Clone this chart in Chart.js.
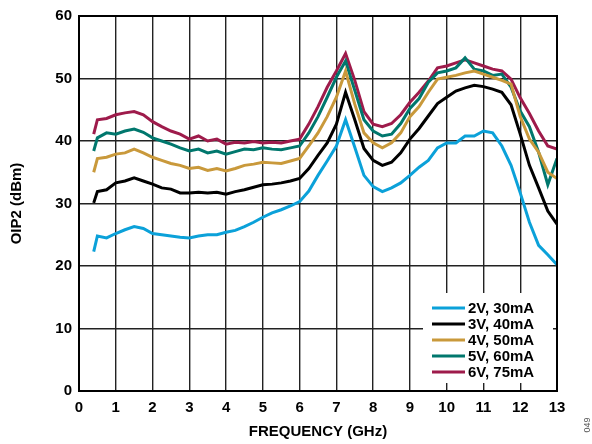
<!DOCTYPE html>
<html>
<head>
<meta charset="utf-8">
<script src="https://cdn.jsdelivr.net/npm/chart.js@4.4.0/dist/chart.umd.min.js"></script>
<style>
  html, body { margin: 0; padding: 0; background: #fff; }
  #wrap { position: relative; width: 592px; height: 444px; }
</style>
</head>
<body>
<div id="wrap"><canvas id="oip2" width="592" height="444"></canvas></div>
<script>
// frequency points (GHz) shared by all curves
const freqGHz = [0.4, 0.5, 0.75, 1, 1.25, 1.5, 1.75, 2, 2.25, 2.5, 2.75, 3, 3.25, 3.5, 3.75, 4,
  4.25, 4.5, 4.75, 5, 5.25, 5.5, 5.75, 6, 6.25, 6.5, 6.75, 7, 7.25, 7.5, 7.75, 8,
  8.25, 8.5, 8.75, 9, 9.25, 9.5, 9.75, 10, 10.25, 10.5, 10.75, 11, 11.25, 11.5, 11.75, 12,
  12.25, 12.5, 12.75, 13];

// OIP2 (dBm) per supply setting
const oip2_2V = [22.3, 24.8, 24.5, 25.2, 25.8, 26.3, 26.0, 25.2, 25.0, 24.8, 24.6, 24.5, 24.8, 25.0, 25.0, 25.4,
  25.7, 26.3, 27.0, 27.8, 28.5, 29.0, 29.6, 30.3, 32.0, 34.5, 36.8, 39.2, 43.4, 39.0, 34.5, 32.7,
  31.9, 32.5, 33.3, 34.5, 35.8, 36.9, 38.9, 39.7, 39.7, 40.8, 40.8, 41.6, 41.3, 39.2, 36.1, 31.7,
  27.0, 23.3, 21.8, 20.2];
const oip2_3V = [30.1, 31.9, 32.2, 33.3, 33.6, 34.1, 33.6, 33.1, 32.5, 32.3, 31.7, 31.7, 31.8, 31.7, 31.8, 31.5,
  31.9, 32.2, 32.6, 33.0, 33.1, 33.3, 33.6, 34.0, 35.6, 37.7, 39.7, 42.7, 47.8, 43.4, 38.8, 36.9,
  36.1, 36.6, 38.1, 40.3, 42.0, 44.0, 46.0, 47.0, 48.0, 48.5, 48.9, 48.7, 48.3, 47.8, 45.8, 41.1,
  36.1, 32.5, 28.8, 26.7];
const oip2_4V = [35.0, 37.2, 37.4, 37.9, 38.1, 38.7, 38.1, 37.4, 36.9, 36.4, 36.1, 35.6, 35.8, 35.3, 35.6, 35.2,
  35.6, 36.1, 36.3, 36.6, 36.5, 36.4, 36.8, 37.2, 39.2, 41.3, 43.9, 47.0, 51.2, 45.9, 41.3, 39.7,
  38.9, 39.7, 41.3, 43.9, 45.5, 47.8, 49.9, 50.2, 50.5, 50.9, 51.2, 50.7, 50.2, 49.7, 49.1, 43.9,
  40.3, 38.2, 35.0, 34.0];
const oip2_5V = [38.4, 40.5, 41.3, 41.1, 41.6, 41.9, 41.4, 40.5, 40.0, 39.5, 38.9, 38.4, 38.7, 38.1, 38.4, 37.9,
  38.3, 38.7, 38.6, 38.9, 38.7, 38.6, 38.9, 39.2, 41.3, 43.9, 47.0, 50.2, 52.8, 48.1, 43.4, 41.6,
  40.8, 41.1, 42.8, 45.2, 46.8, 49.4, 50.9, 51.2, 51.7, 53.3, 51.5, 51.2, 50.5, 50.7, 48.6, 44.8,
  42.3, 38.2, 33.0, 37.2];
const oip2_6V = [41.1, 43.4, 43.6, 44.2, 44.5, 44.7, 44.2, 43.1, 42.3, 41.6, 41.1, 40.3, 40.8, 40.0, 40.3, 39.5,
  39.8, 39.7, 39.9, 39.7, 39.8, 39.7, 40.0, 40.3, 42.7, 45.5, 48.6, 51.2, 54.0, 49.7, 44.7, 42.7,
  42.3, 42.8, 44.2, 46.2, 47.8, 49.6, 51.7, 52.0, 52.5, 53.0, 52.5, 52.0, 51.5, 51.2, 49.9, 46.9,
  44.4, 41.6, 39.2, 38.7];

const seriesLabels = ["2V, 30mA", "3V, 40mA", "4V, 50mA", "5V, 60mA", "6V, 75mA"];
const seriesValues = [oip2_2V, oip2_3V, oip2_4V, oip2_5V, oip2_6V];
const seriesColors = ["#0ba1d9", "#000000", "#c9993b", "#00776d", "#9e1b4b"];

const xTickValues = [0, 1, 2, 3, 4, 5, 6, 7, 8, 9, 10, 11, 12, 13];
const yTickValues = [0, 10, 20, 30, 40, 50, 60];

const FONT = "'Liberation Sans', Arial, sans-serif";

// draw order: 6V at the back ... 2V on top? reference has blue/black over others
const datasets = seriesLabels.map((label, i) => ({
  label: label,
  data: freqGHz.map((f, k) => ({ x: f, y: seriesValues[i][k] })),
  borderColor: seriesColors[i],
  borderWidth: 3,
  pointRadius: 0,
  tension: 0,
  fill: false,
}));

// white box legend sitting inside the plot, lower right
const insideLegend = {
  id: "insideLegend",
  afterDraw(chart) {
    const { ctx, chartArea } = chart;
    const boxX = chartArea.right - 134;
    const boxY = chartArea.bottom - 98;
    ctx.save();
    ctx.fillStyle = "#fff";
    ctx.fillRect(boxX, boxY, 130, 90);
    ctx.font = "bold 15px " + FONT;
    ctx.textBaseline = "middle";
    ctx.textAlign = "left";
    chart.data.datasets.forEach((ds, i) => {
      const y = boxY + 15 + i * 16;
      ctx.strokeStyle = ds.borderColor;
      ctx.lineWidth = 3;
      ctx.beginPath();
      ctx.moveTo(boxX + 9, y);
      ctx.lineTo(boxX + 42, y);
      ctx.stroke();
      ctx.fillStyle = "#000";
      ctx.fillText(ds.label, boxX + 45, y + 1);
    });
    ctx.restore();
  },
};

// heavy frame round the plot + figure number
const frame = {
  id: "frame",
  afterDraw(chart) {
    const { ctx, chartArea } = chart;
    ctx.save();
    ctx.strokeStyle = "#000";
    ctx.lineWidth = 2;
    ctx.strokeRect(chartArea.left, chartArea.top, chartArea.right - chartArea.left, chartArea.bottom - chartArea.top);
    ctx.translate(588, 425);
    ctx.rotate(-Math.PI / 2);
    ctx.fillStyle = "#555";
    ctx.font = "9px " + FONT;
    ctx.textAlign = "center";
    ctx.textBaseline = "middle";
    ctx.fillText("049", 0, 0);
    ctx.restore();
  },
};

const tickFont = { family: FONT, size: 15, weight: "bold" };

new Chart(document.getElementById("oip2"), {
  type: "line",
  data: { datasets: datasets },
  options: {
    responsive: false,
    animation: false,
    devicePixelRatio: 1,
    layout: { padding: { top: 7, right: 35, bottom: 0, left: 0 } },
    plugins: {
      legend: { display: false },
      tooltip: { enabled: false },
    },
    scales: {
      x: {
        type: "linear",
        min: 0,
        max: 13,
        afterBuildTicks: (s) => { s.ticks = xTickValues.map((v) => ({ value: v })); },
        afterFit: (s) => { s.height = 53; },
        grid: { color: "#222", lineWidth: 1.4, drawTicks: false },
        border: { color: "#000", width: 2 },
        ticks: { color: "#000", font: tickFont, padding: 8, maxRotation: 0, autoSkip: false },
        title: { display: true, text: "FREQUENCY (GHz)", color: "#000", font: tickFont, padding: { top: 0, bottom: 3 } },
      },
      y: {
        min: 0,
        max: 60,
        afterBuildTicks: (s) => { s.ticks = yTickValues.map((v) => ({ value: v })); },
        afterFit: (s) => { s.width = 79; },
        grid: { color: "#222", lineWidth: 1.4, drawTicks: false },
        border: { color: "#000", width: 2 },
        ticks: { color: "#000", font: tickFont, padding: 7 },
        title: { display: true, text: "OIP2 (dBm)", color: "#000", font: tickFont, padding: { top: 8, bottom: 0 } },
      },
    },
  },
  plugins: [insideLegend, frame],
});
</script>
</body>
</html>
